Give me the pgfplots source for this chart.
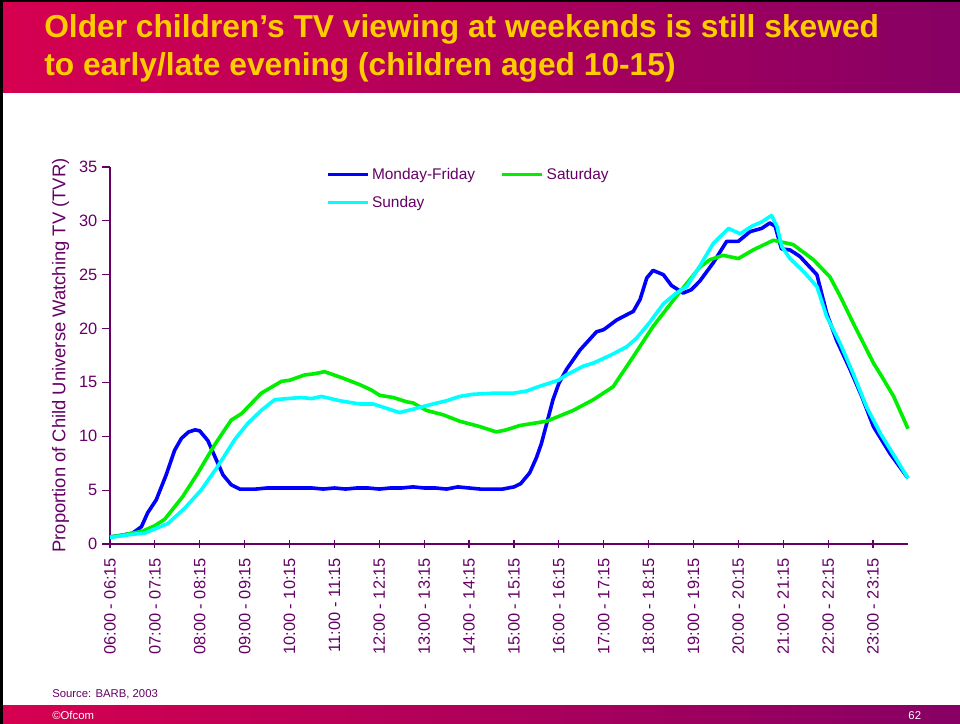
\documentclass[border=0pt]{standalone}
\usepackage{pgfplots}
\pgfplotsset{compat=1.18}
\usepackage{fontspec}
\setmainfont{Liberation Sans}
\definecolor{ofpurple}{RGB}{102,0,102}
\definecolor{barL}{RGB}{214,0,80}
\definecolor{barR}{RGB}{135,0,100}
\definecolor{ttl}{RGB}{255,204,0}
\definecolor{mfblue}{RGB}{0,0,255}
\definecolor{satgreen}{RGB}{0,238,0}
\definecolor{suncyan}{RGB}{0,255,255}

\begin{document}
\begin{tikzpicture}
\useasboundingbox (0,0) rectangle (720pt,543pt);
\fill[white] (0,0) rectangle (720pt,543pt);
\shade[left color=barL, right color=barR] (0,473.25pt) rectangle (720pt,543pt);
\shade[left color=barL, right color=barR] (0,0) rectangle (720pt,13.5pt);
\fill[black] (0,0) rectangle (2pt,543pt);
\fill[black] (0,541.5pt) rectangle (720pt,543pt);
\node[anchor=base west, inner sep=0pt, text=ttl, font=\fontsize{23.8}{28}\selectfont\bfseries] at (33pt,514.5pt) {Older children’s TV viewing at weekends is still skewed};
\node[anchor=base west, inner sep=0pt, text=ttl, font=\fontsize{23.8}{28}\selectfont\bfseries] at (33pt,486pt) {to early/late evening (children aged 10-15)};
\node[anchor=base west, inner sep=0pt, text=ofpurple, font=\fontsize{8.5}{10}\selectfont] at (39pt,20pt) {Source: BARB, 2003};
\node[anchor=base west, inner sep=0pt, text=white, font=\fontsize{8.5}{10}\selectfont] at (39pt,3.5pt) {©Ofcom};
\node[anchor=base east, inner sep=0pt, text=white, font=\fontsize{8.5}{10}\selectfont] at (691pt,3.5pt) {62};
\begin{axis}[
  at={(82.5pt,135pt)}, anchor=south west,
  scale only axis, width=598.5pt, height=282.75pt,
  xmin=6, xmax=23.78, ymin=0, ymax=35,
  axis lines=left,
  axis line style={draw=ofpurple, line width=0.9pt, -},
  xtick={6,...,23},
  xticklabels={06:00 - 06:15,07:00 - 07:15,08:00 - 08:15,09:00 - 09:15,10:00 - 10:15,11:00 - 11:15,12:00 - 12:15,13:00 - 13:15,14:00 - 14:15,15:00 - 15:15,16:00 - 16:15,17:00 - 17:15,18:00 - 18:15,19:00 - 19:15,20:00 - 20:15,21:00 - 21:15,22:00 - 22:15,23:00 - 23:15},
  ytick={0,5,...,35},
  xtick align=center, ytick align=outside,
  major tick length=6pt,
  tick style={draw=ofpurple, line width=0.9pt},
  tick label style={font=\fontsize{12.3}{14}\selectfont, text=ofpurple},
  /pgf/number format/assume math mode=true,
  x tick label style={rotate=90, anchor=east, xshift=-4pt},
  ylabel={Proportion of Child Universe Watching TV (TVR)},
  every axis y label/.style={at={(axis description cs:-0.062,0.5)}, rotate=90, anchor=center, font=\fontsize{13.8}{16}\selectfont, text=ofpurple},
  legend columns=2,
  legend cell align=left,
  legend style={at={(axis description cs:0.27,1.005)}, anchor=north west, draw=none, fill=none, font=\fontsize{11.6}{13}\selectfont, text=ofpurple, /tikz/every even column/.append style={column sep=17pt}, row sep=7pt, inner sep=0pt},
  legend image code/.code={\draw[#1] (0pt,0pt) -- (30pt,0pt);},
  clip=false,
]
\addplot[mfblue, line width=2.7pt, line join=round] coordinates {
(6.00,0.65) (6.25,0.8) (6.50,1.0) (6.70,1.6) (6.84,2.9) (7.03,4.1) (7.25,6.4) (7.44,8.7) (7.59,9.8) (7.75,10.4) (7.90,10.6) (8.00,10.5) (8.18,9.6) (8.37,7.8) (8.52,6.4) (8.70,5.5) (8.89,5.1) (9.25,5.1) (9.50,5.2) (10.0,5.2) (10.5,5.2) (10.75,5.1) (11.0,5.2) (11.25,5.1) (11.5,5.2) (11.75,5.2) (12.0,5.1) (12.25,5.2) (12.5,5.2) (12.75,5.3) (13.0,5.2) (13.25,5.2) (13.5,5.1) (13.75,5.3) (14.0,5.2) (14.25,5.1) (14.5,5.1) (14.75,5.1) (15.0,5.3) (15.15,5.6) (15.35,6.6) (15.50,8.0) (15.61,9.3) (15.75,11.5) (15.87,13.4) (16.0,14.9) (16.17,16.2) (16.47,18.0) (16.84,19.7) (17.0,19.9) (17.29,20.8) (17.66,21.6) (17.81,22.7) (17.96,24.7) (18.10,25.4) (18.33,25.0) (18.51,24.0) (18.77,23.3) (18.95,23.6) (19.14,24.4) (19.44,26.1) (19.74,28.1) (20.0,28.1) (20.26,29.0) (20.52,29.3) (20.70,29.8) (20.82,29.5) (20.96,27.4) (21.15,27.3) (21.37,26.7) (21.75,25.0) (21.97,21.4) (22.19,18.9) (22.49,16.2) (22.75,13.7) (23.01,10.9) (23.38,8.4) (23.78,6.1)
};
\addlegendentry{Monday-Friday}
\addplot[satgreen, line width=2.7pt, line join=round] coordinates {
(6.0,0.65) (6.25,0.8) (6.5,1.0) (6.73,1.2) (7.0,1.7) (7.22,2.3) (7.62,4.4) (7.96,6.6) (8.33,9.2) (8.70,11.5) (8.93,12.1) (9.37,14.0) (9.82,15.1) (10.0,15.2) (10.34,15.7) (10.55,15.8) (10.78,16.0) (11.19,15.4) (11.56,14.8) (11.82,14.3) (12.01,13.8) (12.31,13.6) (12.61,13.2) (12.75,13.1) (13.05,12.4) (13.42,12.0) (13.79,11.4) (14.24,10.9) (14.61,10.4) (14.83,10.6) (15.13,11.0) (15.43,11.2) (15.73,11.4) (16.32,12.4) (16.77,13.4) (17.21,14.6) (17.66,17.4) (18.10,20.2) (18.62,23.0) (19.14,25.7) (19.37,26.4) (19.66,26.8) (20.0,26.5) (20.33,27.3) (20.78,28.2) (21.22,27.8) (21.67,26.4) (22.04,24.8) (22.27,23.0) (22.56,20.5) (23.01,16.8) (23.16,15.8) (23.46,13.7) (23.78,10.7)
};
\addlegendentry{Saturday}
\addplot[suncyan, line width=2.7pt, line join=round] coordinates {
(6.0,0.6) (6.25,0.75) (6.5,0.9) (6.77,1.0) (7.0,1.4) (7.29,1.9) (7.66,3.3) (8.03,5.0) (8.40,7.2) (8.78,9.7) (9.07,11.2) (9.37,12.4) (9.67,13.4) (9.96,13.5) (10.26,13.6) (10.49,13.5) (10.71,13.7) (11.12,13.3) (11.56,13.0) (11.86,13.0) (12.16,12.6) (12.45,12.2) (12.83,12.6) (13.20,13.0) (13.50,13.3) (13.79,13.7) (14.09,13.9) (14.54,14.0) (14.98,14.0) (15.28,14.2) (15.54,14.6) (15.99,15.2) (16.17,15.7) (16.54,16.5) (16.77,16.8) (17.14,17.5) (17.51,18.3) (17.73,19.1) (18.03,20.6) (18.33,22.3) (18.62,23.3) (18.85,23.9) (19.14,25.8) (19.44,27.9) (19.78,29.3) (20.04,28.8) (20.30,29.5) (20.52,29.9) (20.74,30.5) (20.86,29.5) (20.97,27.6) (21.15,26.5) (21.45,25.3) (21.75,23.9) (21.97,21.1) (22.27,18.6) (22.56,15.8) (22.86,12.7) (23.16,10.3) (23.53,7.8) (23.78,6.1)
};
\addlegendentry{Sunday}
\end{axis}
\end{tikzpicture}
\end{document}
